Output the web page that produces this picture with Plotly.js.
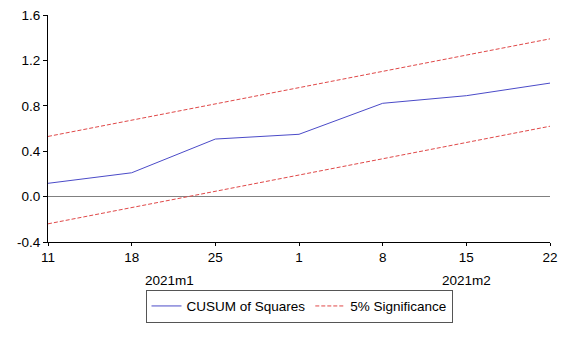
<!DOCTYPE html>
<html>
<head>
<meta charset="utf-8">
<script src="https://cdn.plot.ly/plotly-3.0.1.min.js"></script>
<style>html,body{margin:0;padding:0;background:#fff;}#chart{width:565px;height:337px;}</style>
</head>
<body>
<div id="chart"></div>
<script>
const categories = ['11', '18', '25', '1', '8', '15', '22'];
const cusumSq = [0.117, 0.21, 0.507, 0.549, 0.822, 0.889, 1.0];
const upper5 = [0.53, 0.673, 0.817, 0.96, 1.103, 1.247, 1.39];
const lower5 = [-0.24, -0.097, 0.047, 0.19, 0.333, 0.477, 0.62];
const monthLabels = ['2021m1', '2021m2'];
const monthPos = [1.45, 5.0];
const yTicks = [-0.4, 0.0, 0.4, 0.8, 1.2, 1.6];

const FONT = '"Liberation Sans", Arial, sans-serif';

const traces = [
  {x: categories, y: cusumSq, type: 'scatter', mode: 'lines', name: 'CUSUM of Squares',
   line: {color: '#4b4bc8', width: 1}},
  {x: categories, y: upper5, type: 'scatter', mode: 'lines', name: '5% Significance',
   line: {color: '#e04848', width: 1, dash: '4px,2px'}},
  {x: categories, y: lower5, type: 'scatter', mode: 'lines', name: '5% Significance',
   showlegend: false, line: {color: '#e04848', width: 1, dash: '4px,2px'}}
];

const layout = {
  width: 565, height: 337,
  margin: {l: 47.5, r: 15, t: 15, b: 95},
  paper_bgcolor: '#fff', plot_bgcolor: '#fff',
  font: {family: FONT, size: 13.5, color: '#000'},
  showlegend: true,
  xaxis: {
    type: 'category', range: [0, 6], showgrid: false, zeroline: false,
    showline: true, linecolor: '#000', linewidth: 1,
    ticks: 'outside', ticklen: 3, tickcolor: '#000',
    tickfont: {family: FONT, size: 13.5, color: '#000'},
    fixedrange: true
  },
  yaxis: {
    range: [-0.4, 1.6], tickvals: yTicks, ticktext: yTicks.map(v => v.toFixed(1)),
    showgrid: false, zeroline: true, zerolinecolor: '#808080', zerolinewidth: 1,
    showline: true, linecolor: '#000', linewidth: 1,
    ticks: 'outside', ticklen: 4, tickcolor: '#000',
    tickfont: {family: FONT, size: 13.5, color: '#000'},
    fixedrange: true
  },
  legend: {
    orientation: 'h', x: 0.5, xanchor: 'center', y: -0.21, yanchor: 'top',
    bordercolor: '#555', borderwidth: 1, bgcolor: '#fff',
    font: {family: FONT, size: 13.5, color: '#000'},
    itemwidth: 30, tracegroupgap: 0
  },
  annotations: monthLabels.map((t, i) => ({
    text: t, x: monthPos[i], xref: 'x', y: -0.17, yref: 'paper',
    yanchor: 'middle', xanchor: 'center', showarrow: false,
    font: {family: FONT, size: 13.5, color: '#000'}
  }))
};

Plotly.newPlot('chart', traces, layout, {staticPlot: true, displayModeBar: false});
</script>
</body>
</html>
